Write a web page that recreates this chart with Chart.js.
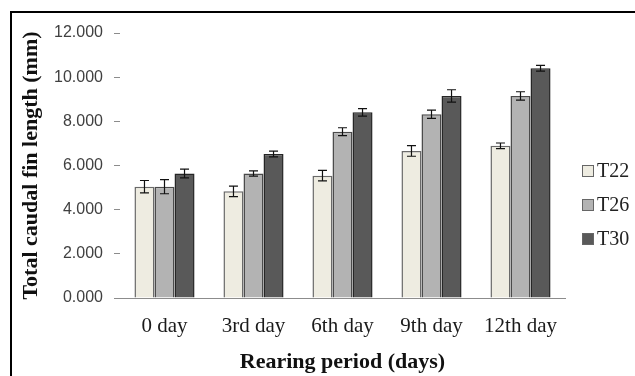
<!DOCTYPE html>
<html>
<head>
<meta charset="utf-8">
<script src="https://cdn.jsdelivr.net/npm/chart.js@4.4.1/dist/chart.umd.min.js"></script>
<style>
   html, body { margin: 0; padding: 0; background: #fff; }
   #wrap { position: relative; width: 635px; height: 376px; overflow: hidden; }
   #frame {
      position: absolute; left: 10px; top: 11px; width: 700px; height: 400px;
      border-left: 2px solid #000; border-top: 2px solid #000;
   }
   canvas { position: absolute; left: 0; top: 0; }
</style>
</head>
<body>
<div id="wrap">
   <div id="frame"></div>
   <canvas id="chart-bars" width="635" height="376"></canvas>
</div>
<script>
// data
var dias = ["0 day", "3rd day", "6th day", "9th day", "12th day"];
var yTickLabels = ["0.000", "2.000", "4.000", "6.000", "8.000", "10.000", "12.000"];
var t22 = [5.04, 4.83, 5.54, 6.66, 6.89];
var t26 = [5.04, 5.64, 7.53, 8.32, 9.15];
var t30 = [5.64, 6.52, 8.41, 9.15, 10.40];
var err22 = [0.28, 0.24, 0.24, 0.24, 0.13];
var err26 = [0.32, 0.12, 0.18, 0.19, 0.19];
var err30 = [0.20, 0.13, 0.17, 0.28, 0.13];

// error bars, drawn with the chart's own scales
var errorBars = {
   id: "errorBars",
   afterDatasetsDraw: function (chart) {
      var ctx = chart.ctx;
      var y = chart.scales.y;
      ctx.save();
      ctx.strokeStyle = "#111";
      ctx.lineWidth = 1.2;
      chart.data.datasets.forEach(function (ds, i) {
         var meta = chart.getDatasetMeta(i);
         meta.data.forEach(function (bar, j) {
            var v = ds.data[j];
            var e = ds.errores[j];
            var top = y.getPixelForValue(v + e);
            var bot = y.getPixelForValue(v - e);
            var x = bar.x;
            ctx.beginPath();
            ctx.moveTo(x, top);
            ctx.lineTo(x, bot);
            ctx.moveTo(x - 4.5, top);
            ctx.lineTo(x + 4.5, top);
            ctx.moveTo(x - 4.5, bot);
            ctx.lineTo(x + 4.5, bot);
            ctx.stroke();
         });
      });
      ctx.restore();
   },
};

// legend on the right, like the original
var leyenda = {
   id: "leyenda",
   afterDraw: function (chart) {
      var ctx = chart.ctx;
      ctx.save();
      chart.data.datasets.forEach(function (ds, i) {
         var cy = 171 + i * 34;
         ctx.fillStyle = ds.backgroundColor;
         ctx.fillRect(582, cy - 6, 12, 12);
         ctx.strokeStyle = "#666";
         ctx.lineWidth = 1;
         ctx.strokeRect(582.5, cy - 5.5, 11, 11);
         ctx.fillStyle = "#222";
         ctx.font = "20px 'Liberation Serif'";
         ctx.textBaseline = "middle";
         ctx.fillText(ds.label, 597, cy + 1);
      });
      ctx.restore();
   },
};

var ctxBars = document.getElementById("chart-bars").getContext("2d");

window.grafica1 = new Chart(ctxBars, {
   type: "bar",
   plugins: [errorBars, leyenda],
   data: {
      labels: dias,
      datasets: [
         {
            label: "T22",
            data: t22,
            errores: err22,
            backgroundColor: "#EEECE1",
            borderColor: "#6a6a6a",
            borderWidth: 1.5,
         },
         {
            label: "T26",
            data: t26,
            errores: err26,
            backgroundColor: "#B3B3B3",
            borderColor: "#4a4a4a",
            borderWidth: 1.5,
         },
         {
            label: "T30",
            data: t30,
            errores: err30,
            backgroundColor: "#595959",
            borderColor: "#262626",
            borderWidth: 1.5,
         },
      ],
   },
   options: {
      responsive: false,
      animation: false,
      devicePixelRatio: 1,
      layout: {
         padding: { left: 12, right: 70, top: 33, bottom: 0 },
      },
      datasets: {
         bar: {
            categoryPercentage: 0.675,
            barPercentage: 1,
         },
      },
      plugins: {
         legend: { display: false },
         tooltip: { enabled: false },
      },
      scales: {
         x: {
            afterFit: function (scale) {
               scale.height = 78;
            },
            grid: { display: false },
            border: { display: true, color: "#8c8c8c", width: 1 },
            ticks: {
               color: "#1a1a1a",
               padding: 8,
               font: { size: 21, family: "'Liberation Serif'" },
            },
            title: {
               display: true,
               text: "Rearing period (days)",
               color: "#111",
               align: "center",
               padding: { top: 1, bottom: 0 },
               font: { size: 22, weight: "bold", family: "'Liberation Serif'" },
            },
         },
         y: {
            min: 0,
            max: 12,
            afterFit: function (scale) {
               scale.width = 108;
            },
            grid: {
               display: true,
               drawOnChartArea: false,
               drawTicks: true,
               tickLength: 6,
               color: "#8c8c8c",
            },
            border: { display: false },
            ticks: {
               stepSize: 2,
               padding: 11,
               color: "#404040",
               font: { size: 16, family: "'Liberation Sans'" },
               callback: function (value, index) {
                  return yTickLabels[index];
               },
            },
            title: {
               display: true,
               text: "Total caudal fin length (mm)",
               color: "#111",
               padding: { top: 6, bottom: 0 },
               font: { size: 22, weight: "bold", family: "'Liberation Serif'" },
            },
         },
      },
   },
});
</script>
</body>
</html>
